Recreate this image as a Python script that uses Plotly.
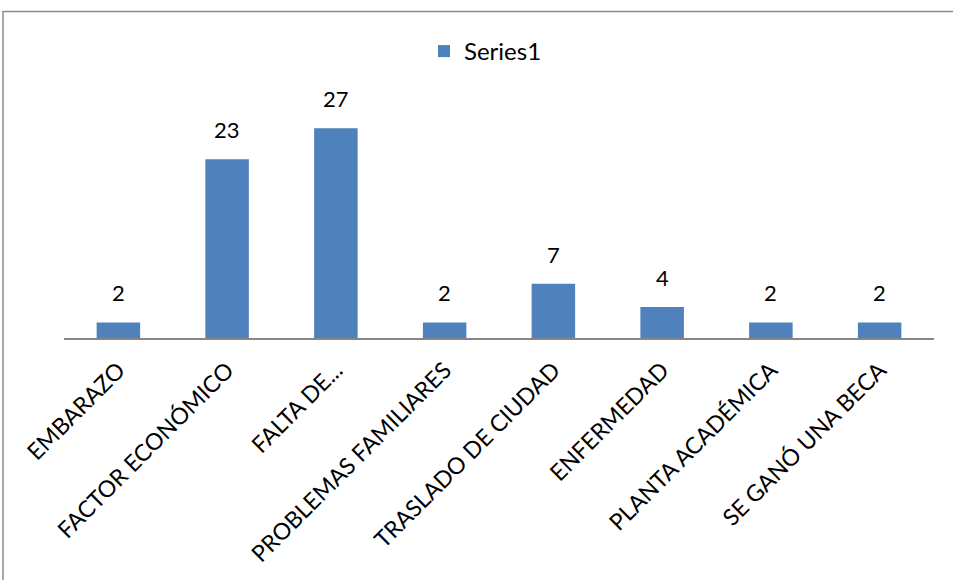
import plotly.graph_objects as go

categories = ["EMBARAZO", "FACTOR ECONÓMICO", "FALTA DE...", "PROBLEMAS FAMILIARES",
              "TRASLADO DE CIUDAD", "ENFERMEDAD", "PLANTA ACADÉMICA", "SE GANÓ UNA BECA"]
values = [2, 23, 27, 2, 7, 4, 2, 2]
series_name = "Series1"

W, H = 953, 580
L, R = 64, 934
Y0 = 338
ymax = 30
ppu = 7.78
T = Y0 - ymax * ppu
B = H - Y0
FONT = "Lato"

fig = go.Figure(go.Bar(
    x=categories, y=values, name=series_name,
    marker=dict(color="#4F81BD", line=dict(width=0)),
    showlegend=True,
))

for c, v in zip(categories, values):
    fig.add_annotation(x=c, y=v, text=str(v), showarrow=False,
                       yanchor="bottom", yshift=14,
                       font=dict(size=22, color="#000000", family=FONT))

pw = R - L
ph = Y0 - T
def px(x): return (x - L) / pw
def py(y): return (Y0 - y) / ph

fig.update_layout(
    width=W, height=H,
    margin=dict(l=L, r=W - R, t=T, b=B),
    paper_bgcolor="white", plot_bgcolor="white",
    bargap=0.6,
    font=dict(family=FONT, color="#000000"),
    showlegend=True,
    legend=dict(x=px(424), y=py(51), xanchor="left", yanchor="middle",
                font=dict(size=24, family=FONT), bgcolor="rgba(0,0,0,0)",
                itemwidth=30),
    xaxis=dict(tickangle=-45, showline=True, linecolor="#868686", linewidth=1.5,
               ticks="", tickfont=dict(size=23, family=FONT), showgrid=False,
               ticklabelstandoff=8),
    yaxis=dict(range=[0, ymax], visible=False, showgrid=False),
    shapes=[dict(type="rect", xref="paper", yref="paper",
                 x0=px(3), x1=px(1000), y0=py(11), y1=py(700),
                 line=dict(color="#8C8C8C", width=1.5))],
)
fig.write_html("out.html", config={"displayModeBar": False},
               post_script="document.body.style.margin='0';")
